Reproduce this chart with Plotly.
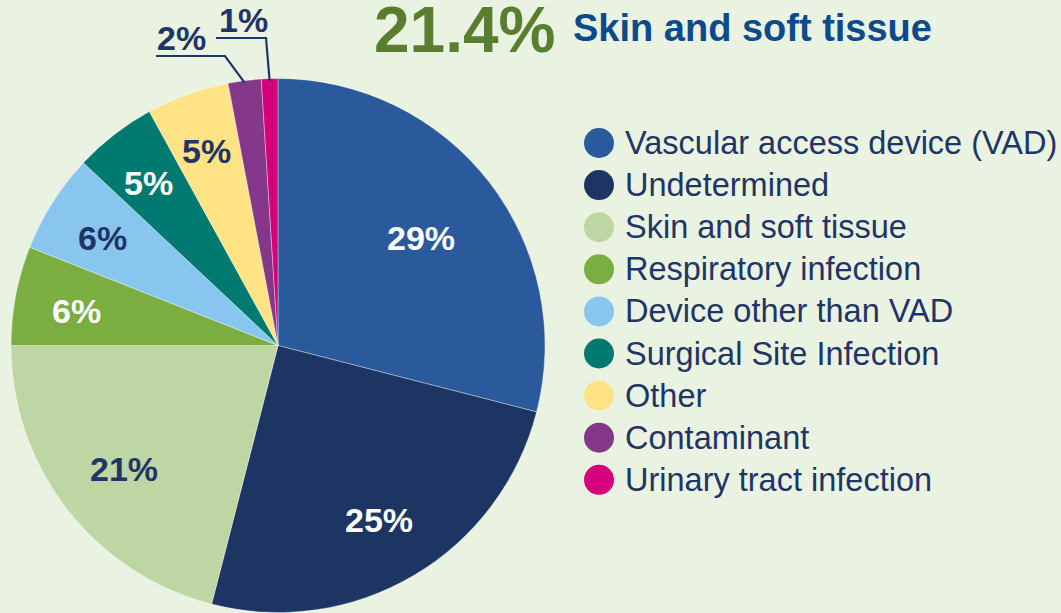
import math
import plotly.graph_objects as go

# ---- data ----
categories = ["Vascular access device (VAD)", "Undetermined", "Skin and soft tissue",
              "Respiratory infection", "Device other than VAD", "Surgical Site Infection",
              "Other", "Contaminant", "Urinary tract infection"]
values = [29, 25, 21, 6, 6, 5, 5, 2, 1]
headline_value = "21.4%"
headline_label = "Skin and soft tissue"

# ---- styles ----
colors = ["#2A5A9C", "#1C3562", "#BED6A4", "#7AAE41", "#88C6EF",
          "#007A70", "#FFE385", "#853889", "#D6007C"]
label_colors = ["white", "white", "#1F3566", "white", "#1F3566", "white", "#1F3566",
                "#1F3566", "#1F3566"]
label_rfrac = [0.68, 0.74, 0.73, 0.77, 0.78, 0.79, 0.79, None, None]
BG = "#EAF3E2"
NAVY = "#1F3566"
FONT = "Liberation Sans, Arial, Helvetica, sans-serif"

W, H = 1061, 613
CX, CY, R = 278, 345.5, 267
LABEL_DY = 4


def px(x):
    return x / W


def py(y):
    return (H - y) / H


fig = go.Figure()
fig.add_trace(go.Pie(
    labels=categories, values=values, sort=False, direction="clockwise", rotation=0,
    marker=dict(colors=colors, line=dict(color="rgba(255,255,255,0.45)", width=0.8)),
    textinfo="none", hoverinfo="label+percent", showlegend=False,
    domain=dict(x=[px(CX - R), px(CX + R)], y=[py(CY + R), py(CY - R)]),
))

total = sum(values)
annotations = []
shapes = []
cum = 0
mids = []
for i, v in enumerate(values):
    mid = (cum + v / 2) / total * 2 * math.pi
    mids.append(mid)
    cum += v
    pct = f"{round(v / total * 100)}%"
    if label_rfrac[i] is not None:
        r = R * label_rfrac[i]
        x = CX + r * math.sin(mid)
        y = CY - r * math.cos(mid) + LABEL_DY
        annotations.append(dict(x=px(x), y=py(y), xref="paper", yref="paper",
                                text=f"<b>{pct}</b>", showarrow=False,
                                font=dict(family=FONT, size=34, color=label_colors[i]),
                                xanchor="center", yanchor="middle"))

# outside labels for the two smallest slices with elbow leader lines
outside = {7: dict(elbow=(225, 56), line_to=156, text=(181, 38), rr=1.0),
           8: dict(elbow=(266, 38), line_to=216, text=(243, 20), rr=1.0)}
for i, st in outside.items():
    mid = mids[i]
    ex = CX + R * st["rr"] * math.sin(mid)
    ey = CY - R * st["rr"] * math.cos(mid) + 2
    path = (f"M {px(ex)},{py(ey)} L {px(st['elbow'][0])},{py(st['elbow'][1])} "
            f"L {px(st['line_to'])},{py(st['elbow'][1])}")
    shapes.append(dict(type="path", xref="paper", yref="paper", path=path,
                       line=dict(color=NAVY, width=2.2)))
    pct = f"{round(values[i] / total * 100)}%"
    annotations.append(dict(x=px(st["text"][0]), y=py(st["text"][1]), xref="paper", yref="paper",
                            text=f"<b>{pct}</b>", showarrow=False,
                            font=dict(family=FONT, size=34, color=NAVY),
                            xanchor="center", yanchor="middle"))

# custom legend with large circles
LX, LY0, LDY, LR = 599, 143, 42.1, 15
for i, (c, lab) in enumerate(zip(colors, categories)):
    yc = LY0 + i * LDY
    shapes.append(dict(type="circle", xref="paper", yref="paper",
                       x0=px(LX - LR), x1=px(LX + LR), y0=py(yc + LR), y1=py(yc - LR),
                       fillcolor=c, line=dict(width=0)))
    annotations.append(dict(x=px(623), y=py(yc), xref="paper", yref="paper", text=lab,
                            showarrow=False, xanchor="left", yanchor="middle",
                            font=dict(family=FONT, size=32.5, color=NAVY)))

# headline
annotations.append(dict(x=px(372), y=py(68), xref="paper", yref="paper",
                        text=f"<b>{headline_value}</b>", showarrow=False,
                        xanchor="left", yanchor="bottom",
                        font=dict(family=FONT, size=64, color="#5A7E2F")))
annotations.append(dict(x=px(571), y=py(51), xref="paper", yref="paper",
                        text=f"<b>{headline_label}</b>", showarrow=False,
                        xanchor="left", yanchor="bottom",
                        font=dict(family=FONT, size=38, color="#0D4A8A")))

fig.update_layout(
    width=W, height=H, margin=dict(l=0, r=0, t=0, b=0),
    paper_bgcolor=BG, plot_bgcolor=BG,
    annotations=annotations, shapes=shapes, showlegend=False,
)
fig.write_html("out.html", config={"displayModeBar": False},
               post_script="document.body.style.margin='0';document.body.style.background='%s';" % BG)
